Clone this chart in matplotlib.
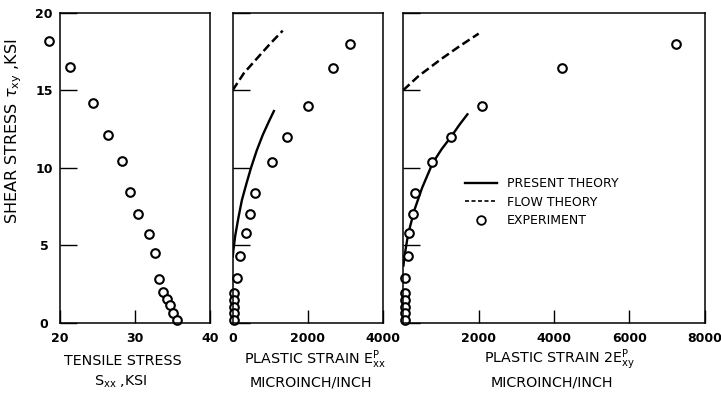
import matplotlib
matplotlib.use("Agg")
import matplotlib.pyplot as plt
from matplotlib.lines import Line2D

# ---------------- data ----------------
# Panel 1: tensile stress vs shear stress (experiment)
tau_p1 = [18.2, 16.47, 14.15, 12.13, 10.45, 8.4, 7.0, 5.72, 4.47, 2.8, 1.96, 1.53, 1.1, 0.6, 0.13]
sxx_exp = [18.57, 21.33, 24.36, 26.44, 28.2, 29.33, 30.36, 31.8, 32.6, 33.24, 33.7, 34.2, 34.67, 35.1, 35.55]

# Panels 2 & 3: experiment
tau_exp = [18.0, 16.4, 13.95, 11.97, 10.38, 8.33, 6.98, 5.75, 4.3, 2.85, 1.92, 1.45, 1.0, 0.6, 0.18]
exx_exp = [3140, 2667, 2018, 1448, 1048, 600, 467, 360, 200, 112, 45, 45, 45, 45, 45]
exy_exp = [7233, 4210, 2100, 1270, 770, 305, 257, 159, 117, 53, 40, 40, 40, 40, 40]

# Theories
exx_present = [0, 20, 67, 155, 245, 370, 490, 640, 800, 960, 1112]
tau_exx_present = [4.2, 4.7, 5.6, 6.8, 7.9, 9.0, 10.0, 11.1, 12.1, 12.95, 13.72]
exx_flow = [0, 300, 667, 1000, 1333]
tau_exx_flow = [15.0, 16.1, 17.1, 18.0, 18.84]
exy_present = [0, 40, 100, 180, 300, 500, 780, 1020, 1270, 1500, 1720]
tau_exy_present = [3.6, 4.4, 5.3, 6.2, 7.3, 8.7, 10.3, 11.2, 12.0, 12.8, 13.5]
exy_flow = [0, 400, 1000, 1500, 2000]
tau_exy_flow = [15.0, 15.9, 17.0, 17.85, 18.65]

# ticks
yticks = [0, 5, 10, 15, 20]
xticks1 = [20, 30, 40]
xticks2 = [0, 2000, 4000]
xticks3 = [2000, 4000, 6000, 8000]

legend_labels = ["PRESENT THEORY", "FLOW THEORY", "EXPERIMENT"]

# ---------------- figure ----------------
plt.rcParams['font.family'] = ['DejaVu Sans']
plt.rcParams['mathtext.fontset'] = 'dejavusans'

W, H = 721, 394
fig = plt.figure(figsize=(W / 100, H / 100), dpi=100)

def fx(px):
    return px / W

def fy(py):
    return 1 - py / H

top, bot = 12.7, 322.5
ax1 = fig.add_axes([fx(60), fy(bot), fx(150), (bot - top) / H])
ax2 = fig.add_axes([fx(232.7), fy(bot), fx(150), (bot - top) / H])
ax3 = fig.add_axes([fx(403.3), fy(bot), fx(301.5), (bot - top) / H])

mk = dict(marker='o', ms=6.2, mfc='white', mec='black', mew=1.5, ls='none')
solid = dict(color='black', lw=1.7, solid_capstyle='butt', solid_joinstyle='round')
dashed = dict(color='black', lw=1.8, ls=(0, (3.4, 1.6)), dash_capstyle='butt')

ax1.plot(sxx_exp, tau_p1, clip_on=False, **mk)

ax2.plot(exx_present, tau_exx_present, **solid)
ax2.plot(exx_flow, tau_exx_flow, **dashed)
ax2.plot(exx_exp, tau_exp, clip_on=False, **mk)

ax3.plot(exy_present, tau_exy_present, **solid)
ax3.plot(exy_flow, tau_exy_flow, **dashed)
ax3.plot(exy_exp, tau_exp, clip_on=False, **mk)

for ax in (ax1, ax2, ax3):
    ax.set_ylim(0, 20)
    ax.set_yticks(yticks)
    for s in ax.spines.values():
        s.set_linewidth(1.1)
    ax.tick_params(axis='y', direction='in', length=12, width=1.0, left=True, right=False)
    ax.tick_params(axis='x', direction='in', length=9.5, width=1.0, bottom=True, top=False,
                   pad=7, labelsize=9)

ax1.set_xlim(20, 40)
ax1.set_xticks(xticks1)
ax1.set_xticklabels([str(v) for v in xticks1])
ax2.set_xlim(0, 4000)
ax2.set_xticks(xticks2)
ax2.set_xticklabels([str(v) for v in xticks2])
ax3.set_xlim(0, 8000)
ax3.set_xticks(xticks3)
ax3.set_xticklabels([str(v) for v in xticks3])

ax1.set_yticklabels([str(v) for v in yticks])
ax1.tick_params(axis='y', labelsize=9, pad=11.5)
for lab in ax1.get_yticklabels():
    lab.set_ha('center')
for ax in (ax2, ax3):
    ax.tick_params(axis='y', labelleft=False)

for ax in (ax1, ax2, ax3):
    for lab in ax.get_xticklabels() + ax.get_yticklabels():
        lab.set_fontweight('bold')

# axis labels
fs = 10.3
row1, row2 = 361, 382
fig.text(fx(14), fy(131), r"SHEAR STRESS $\tau_{\mathregular{xy}}$ ,KSI", rotation=90,
         ha='center', va='center', fontsize=11.5)
fig.text(fx(123), fy(row1), "TENSILE STRESS", ha='center', va='center', fontsize=fs)
fig.text(fx(121), fy(row2), r"S$_{\mathregular{xx}}$ ,KSI", ha='center', va='center', fontsize=fs)
fig.text(fx(315), fy(row1 - 1), r"PLASTIC STRAIN E$^{\mathregular{P}}_{\mathregular{xx}}$",
         ha='center', va='center', fontsize=fs)
fig.text(fx(311), fy(row2), "MICROINCH/INCH", ha='center', va='center', fontsize=fs)
fig.text(fx(560), fy(row1 - 1), r"PLASTIC STRAIN 2E$^{\mathregular{P}}_{\mathregular{xy}}$",
         ha='center', va='center', fontsize=fs)
fig.text(fx(552), fy(row2), "MICROINCH/INCH", ha='center', va='center', fontsize=fs)

# legend
handles = [
    Line2D([], [], color='black', lw=1.7),
    Line2D([], [], color='black', lw=1.2, ls=(0, (2.4, 1.5))),
    Line2D([], [], marker='o', ms=6.2, mfc='white', mec='black', mew=1.3, ls='none'),
]
ax3.legend(handles, legend_labels, loc='upper left', frameon=False,
           bbox_to_anchor=(fx(465), fy(177)), bbox_transform=fig.transFigure,
           borderaxespad=0, borderpad=0, handlelength=2.56, handletextpad=0.8,
           labelspacing=0.45, fontsize=9)

fig.savefig("out.png", dpi=100)
